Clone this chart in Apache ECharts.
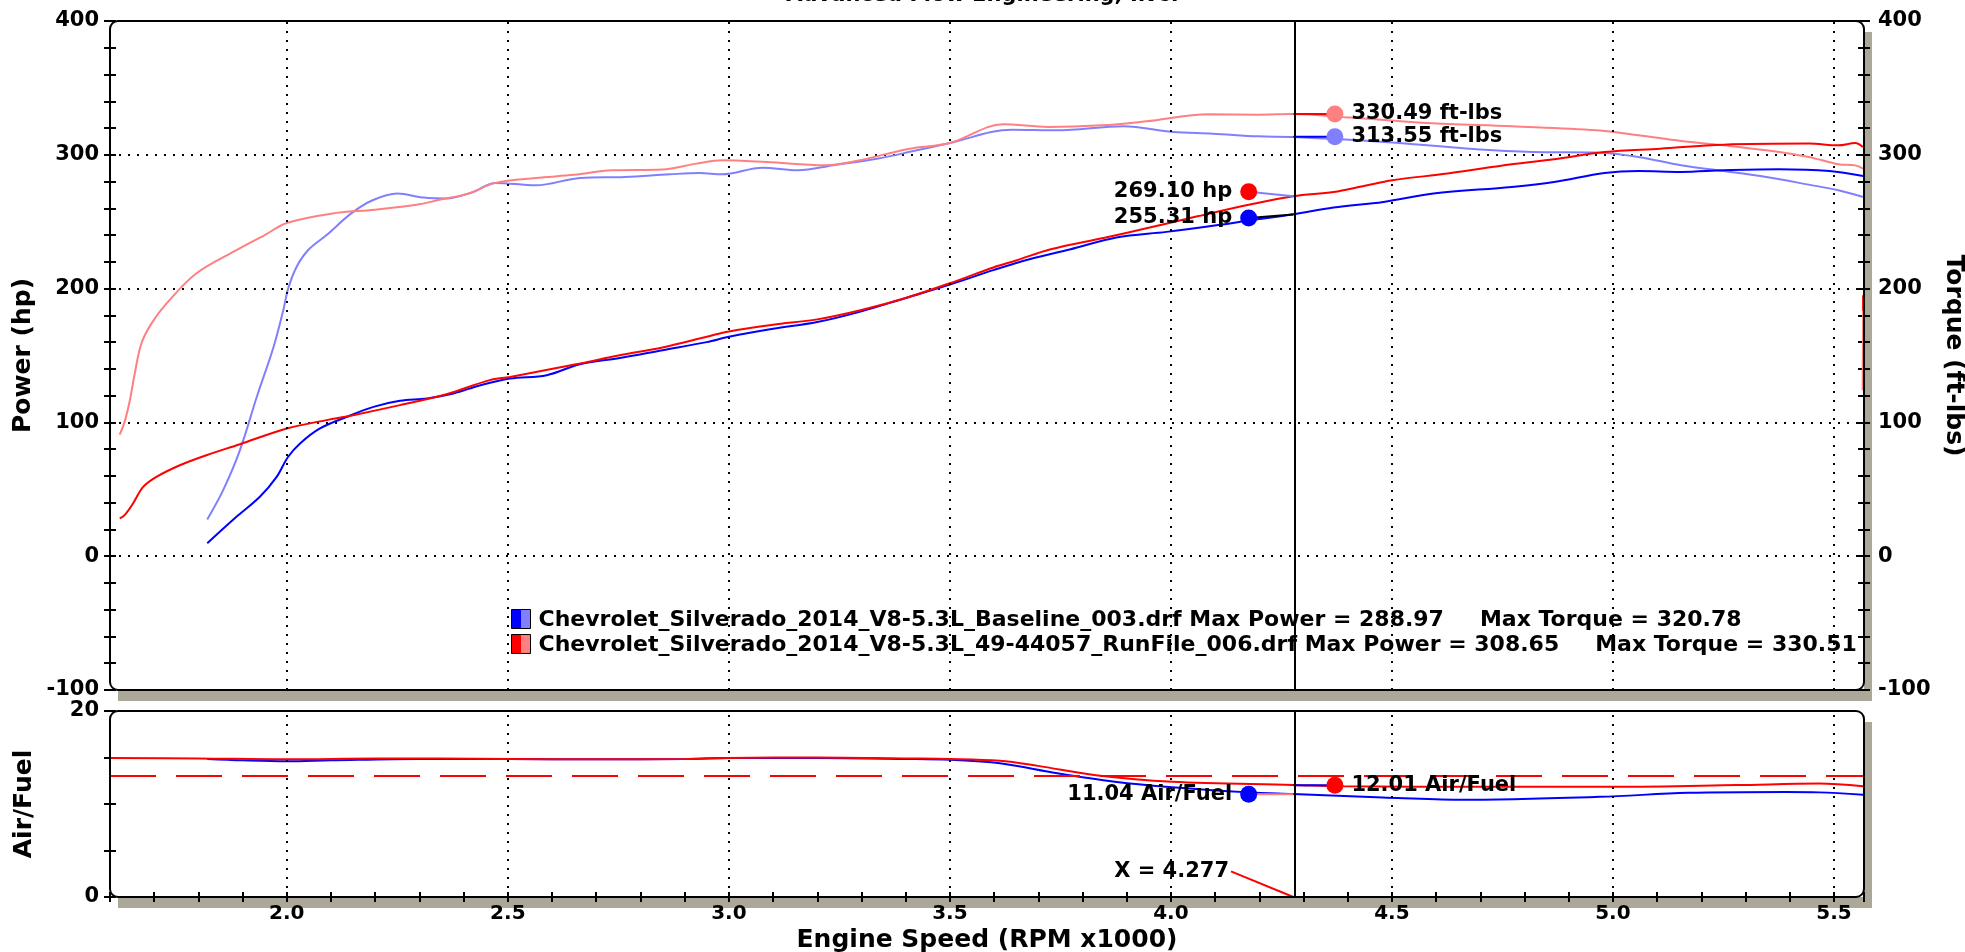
<!DOCTYPE html>
<html><head><meta charset="utf-8">
<script src="https://cdn.jsdelivr.net/npm/echarts@6/dist/echarts.min.js"></script>
<style>html,body{margin:0;padding:0;background:#fff}#c{width:1965px;height:952px}</style>
</head><body><div id="c"></div>
<script>
const FONT = 'DejaVu Sans';
const chartTitle = 'Advanced Flow Engineering, INC.';
const fileNames = ['Chevrolet_Silverado_2014_V8-5.3L_Baseline_003.drf', 'Chevrolet_Silverado_2014_V8-5.3L_49-44057_RunFile_006.drf'];
const maxPower = ['288.97', '308.65'];
const maxTorque = ['320.78', '330.51'];
const xGridValues = [2.0, 2.5, 3.0, 3.5, 4.0, 4.5, 5.0, 5.5];
const xRange = [1.6, 5.568];
const powerRange = [-100, 400];
const afrRange = [0, 20];
const afrTarget = 13.0;
const cursorX = 4.277;
const annLeftX = 4.176, annRightX = 4.371;
const cursorHp = [255.31, 269.10];      // baseline, runfile
const hpDotY = [252.8, 272.3];
const cursorTq = [313.55, 330.49];
const cursorAfr = [11.04, 12.01];

// Baseline (blue) power, hp
const basePower = [[1.82,9.6],[1.886,29.4],[1.939,44.4],[1.977,59.3],[2.003,74.3],[2.03,84.3],[2.075,95.5],[2.136,104.2],[2.196,111.6],[2.256,116.1],[2.317,117.9],[2.377,121.6],[2.438,127.8],[2.505,132.8],[2.588,135.3],[2.663,143.5],[2.75,148],[2.85,154],[2.95,160],[3.0,164],[3.1,170],[3.2,175],[3.3,183],[3.4,193],[3.5,203],[3.6,214],[3.68,222],[3.771,229.2],[3.877,238.2],[3.99,242.4],[4.103,247.3],[4.179,251],[4.277,255.6],[4.368,260.6],[4.481,264.8],[4.594,271],[4.771,276],[4.867,279.7],[4.981,286.4],[5.058,287.9],[5.154,287.2],[5.251,288.4],[5.375,289.2],[5.49,287.9],[5.566,284.2]];
// RunFile (red) power, hp
const runPower = [[1.622,28.2],[1.633,30.7],[1.652,39.4],[1.675,51.8],[1.705,59.3],[1.758,68],[1.818,75.5],[1.894,83.7],[2.0,95.5],[2.09,101.7],[2.15,105.4],[2.256,112.9],[2.361,121],[2.459,131.6],[2.505,134],[2.663,144],[2.75,150],[2.85,156],[2.95,164],[3.0,168],[3.1,173],[3.2,177],[3.3,184],[3.4,193],[3.5,204],[3.6,216],[3.65,221],[3.726,229.2],[3.85,238],[3.952,245.6],[4.06,254],[4.179,262.8],[4.277,269],[4.368,272.2],[4.434,276.5],[4.501,281],[4.626,286],[4.771,292.9],[4.867,296.7],[4.981,302.1],[5.107,304.6],[5.251,307.6],[5.443,308.4],[5.51,307.1],[5.548,308.8],[5.566,305.8]];
// Baseline (light blue) torque, ft-lbs
const baseTorque = [[1.82,27.5],[1.856,49.4],[1.894,79.3],[1.932,119],[1.97,156.4],[1.992,183.8],[2.003,200],[2.022,216.2],[2.048,228.7],[2.09,240],[2.145,256],[2.194,266],[2.25,271],[2.31,268],[2.36,267.3],[2.42,272],[2.472,279],[2.563,277.2],[2.664,282.7],[2.765,283.4],[2.866,285.4],[2.934,286.4],[2.985,285.4],[3.076,290.4],[3.156,288.4],[3.237,292.2],[3.338,297.2],[3.42,303],[3.5,308.8],[3.641,318.8],[3.742,318.3],[3.893,321.3],[4.004,317],[4.095,315.8],[4.197,313.8],[4.277,313.3],[4.482,309.6],[4.674,304.6],[4.818,302.1],[4.963,301.7],[5.058,298.4],[5.154,292.2],[5.251,287.9],[5.347,283.4],[5.443,277.7],[5.51,273.5],[5.566,268.5]];
// RunFile (pink) torque, ft-lbs
const runTorque = [[1.622,90.9],[1.633,100.4],[1.645,116.6],[1.656,136.6],[1.671,159],[1.694,174],[1.728,188.9],[1.795,211.3],[1.886,228.7],[1.95,240],[2.0,249],[2.1,256],[2.2,259],[2.3,263],[2.34,266],[2.41,271],[2.472,279],[2.563,282.7],[2.65,285],[2.735,288.4],[2.85,289],[2.926,293.4],[2.985,295.9],[3.086,294.6],[3.217,292.2],[3.288,295.4],[3.409,304.6],[3.5,308.8],[3.621,322.8],[3.722,320.8],[3.843,322],[3.944,325],[4.086,330.3],[4.197,330],[4.277,330.5],[4.407,327.8],[4.579,323.8],[4.771,321.3],[4.963,318.3],[5.058,314.6],[5.154,310.3],[5.251,307.1],[5.347,303.4],[5.443,298.4],[5.51,292.9],[5.548,292.1],[5.566,289.7]];
const runTorqueTail = [[5.566,195],[5.566,183],[5.565,124]];
// Air/Fuel
const baseAfr = [[1.82,14.85],[1.9,14.7],[2.0,14.6],[2.1,14.7],[2.3,14.85],[2.5,14.85],[2.7,14.8],[2.9,14.85],[3.0,14.95],[3.2,14.95],[3.4,14.85],[3.5,14.75],[3.613,14.37],[3.743,13.3],[3.873,12.4],[4.003,11.8],[4.176,11.25],[4.276,11.07],[4.479,10.7],[4.65,10.46],[4.97,10.77],[5.17,11.2],[5.39,11.3],[5.466,11.25],[5.566,11.0]];
const runAfr = [[1.6,14.95],[1.8,14.9],[2.0,14.8],[2.2,14.9],[2.5,14.85],[2.7,14.8],[2.9,14.85],[3.0,14.95],[3.2,15.0],[3.4,14.9],[3.5,14.85],[3.613,14.65],[3.699,14.1],[3.83,13.1],[4.003,12.4],[4.276,12.05],[4.39,11.9],[4.7,11.85],[5.004,11.85],[5.28,12.03],[5.466,12.2],[5.566,11.9]];
const xLabelAnchor = [4.136, 2.75];

const BLUE = '#0000ff', LBLUE = '#8080ff', RED = '#ff0000', PINK = '#ff8080';
const SHADOW = '#aca899';
const txt = (size) => ({fontFamily: FONT, fontWeight: 'bold', fontSize: size, color: '#000'});
const BLK = {color: '#000', width: 2};

// panel layout (pixels)
const PLOT_L = 110, PLOT_R = 101, PLOT_W = 1965 - 110 - 101;
const panels = [{top: 21, height: 669}, {top: 711, height: 186}];

function curve(name, data, color, xi, yi, extra) {
  return Object.assign({
    type: 'line', name, data, xAxisIndex: xi, yAxisIndex: yi, showSymbol: false,
    smooth: 0.35, silent: true, z: 3,
    lineStyle: {color, width: 2}, itemStyle: {color}
  }, extra || {});
}
function seg(pts, color, xi, yi, width) {
  return {type: 'line', data: pts, xAxisIndex: xi, yAxisIndex: yi, showSymbol: false, silent: true, z: 4,
    lineStyle: {color, width: width || 2}, itemStyle: {color}};
}
function dot(x, y, color, text, pos, xi, yi, size) {
  return {type: 'scatter', xAxisIndex: xi, yAxisIndex: yi, silent: true, z: 6, symbolSize: size === undefined ? 17 : size,
    itemStyle: {color, opacity: 1},
    data: [{value: [x, y], label: {show: true, position: pos, distance: size === 0 ? 2 : 8, formatter: text, opacity: 1, ...txt(21)}}]};
}
const gridLines = () => ({
  silent: true, symbol: 'none', label: {show: false}, animation: false,
  lineStyle: {color: '#000', type: [2, 7], width: 2},
  data: xGridValues.map(v => ({xAxis: v})).concat([{xAxis: cursorX, lineStyle: {type: 'solid', width: 2, color: '#000'}}])
});

const xCommon = {
  type: 'value', min: xRange[0], max: xRange[1], interval: 0.1,
  splitLine: {show: false}, axisLabel: {show: false}, axisTick: {show: false}, axisLine: {show: false}
};
const halfLabel = v => (Math.abs(v * 2 - Math.round(v * 2)) < 1e-6 ? v.toFixed(1) : '');
const gridBase = {left: PLOT_L, right: PLOT_R, show: true, backgroundColor: '#fff', borderWidth: 0,
  containLabel: false, outerBoundsMode: 'none',
  shadowColor: SHADOW, shadowBlur: 0, shadowOffsetX: 8, shadowOffsetY: 11};
const noLine = {show: false};

const option = {
  animation: false,
  backgroundColor: '#fff',
  title: {text: chartTitle, left: 'center', top: -15, padding: 0, textStyle: txt(21)},
  grid: panels.map(p => Object.assign({top: p.top, height: p.height}, gridBase)),
  xAxis: [
    Object.assign({}, xCommon, {gridIndex: 0}),
    Object.assign({}, xCommon, {gridIndex: 1, position: 'bottom',
      axisTick: {show: true, length: 5, lineStyle: BLK},
      axisLabel: {show: true, margin: 7, formatter: halfLabel, ...txt(20)},
      name: 'Engine Speed (RPM x1000)', nameLocation: 'middle', nameGap: 31, nameTextStyle: txt(25)}),
    Object.assign({}, xCommon, {gridIndex: 1, position: 'bottom',
      axisTick: {show: true, inside: true, length: 5, lineStyle: BLK}})
  ],
  yAxis: [
    {gridIndex: 0, type: 'value', min: powerRange[0], max: powerRange[1], interval: 100, position: 'left',
      axisLine: noLine,
      axisTick: {show: true, length: 6, lineStyle: BLK},
      minorTick: {show: true, splitNumber: 5, length: 6, lineStyle: BLK},
      axisLabel: {margin: 11, ...txt(21)},
      splitLine: {show: true, lineStyle: {color: '#000', type: [2, 7], width: 2}},
      name: 'Power (hp)', nameLocation: 'middle', nameGap: 73, nameTextStyle: txt(25)},
    {gridIndex: 0, type: 'value', min: powerRange[0], max: powerRange[1], interval: 100, position: 'left',
      axisLine: noLine, axisLabel: {show: false}, splitLine: {show: false},
      axisTick: {show: true, inside: true, length: 6, lineStyle: BLK},
      minorTick: {show: true, splitNumber: 5, length: 6, lineStyle: BLK}},
    {gridIndex: 0, type: 'value', min: powerRange[0], max: powerRange[1], interval: 100, position: 'right',
      axisLine: noLine,
      axisTick: {show: true, length: 6, lineStyle: BLK},
      minorTick: {show: true, splitNumber: 5, length: 6, lineStyle: BLK},
      axisLabel: {margin: 14, ...txt(21)}, splitLine: {show: false},
      name: 'Torque (ft-lbs)', nameLocation: 'middle', nameGap: 71, nameRotate: -90, nameTextStyle: txt(25)},
    {gridIndex: 0, type: 'value', min: powerRange[0], max: powerRange[1], interval: 100, position: 'right',
      axisLine: noLine, axisLabel: {show: false}, splitLine: {show: false},
      axisTick: {show: true, inside: true, length: 6, lineStyle: BLK},
      minorTick: {show: true, splitNumber: 5, length: 6, lineStyle: BLK}},
    {gridIndex: 1, type: 'value', min: afrRange[0], max: afrRange[1], interval: 5, position: 'left',
      axisLine: noLine,
      axisTick: {show: true, length: 6, lineStyle: BLK},
      axisLabel: {margin: 11, formatter: v => (v === afrRange[0] || v === afrRange[1] ? String(v) : ''), ...txt(21)},
      splitLine: {show: false},
      name: 'Air/Fuel', nameLocation: 'middle', nameGap: 73, nameTextStyle: txt(25)},
    {gridIndex: 1, type: 'value', min: afrRange[0], max: afrRange[1], interval: 5, position: 'left',
      axisLine: noLine, axisLabel: {show: false}, splitLine: {show: false},
      axisTick: {show: true, inside: true, length: 6, lineStyle: BLK}}
  ],
  graphic: panels.map(p => ({
    type: 'rect', z: 100, silent: true,
    shape: {x: PLOT_L, y: p.top, width: PLOT_W, height: p.height, r: 8},
    style: {fill: 'none', stroke: '#000', lineWidth: 2}
  })).concat(fileNames.map((f, i) => ({
    type: 'group', left: 509, top: i === 0 ? 607 : 632,
    children: [
      {type: 'rect', shape: {x: 0, y: 0, width: 10, height: 19}, style: {fill: i === 0 ? BLUE : RED}},
      {type: 'rect', shape: {x: 10, y: 0, width: 9, height: 19}, style: {fill: i === 0 ? LBLUE : PINK}},
      {type: 'rect', shape: {x: 0, y: 0, width: 19, height: 19}, style: {fill: 'none', stroke: '#000', lineWidth: 1}},
      {type: 'text', x: 27, y: 11, style: {
        text: f + ' Max Power = ' + maxPower[i] + '{g| }Max Torque = ' + maxTorque[i],
        font: 'bold 22px "DejaVu Sans"', fill: '#000', verticalAlign: 'middle',
        rich: {g: {width: 36}}}}
    ]
  }))),
  series: [
    curve('base torque', baseTorque, LBLUE, 0, 2),
    curve('run torque', runTorque, PINK, 0, 2),
    seg(runTorqueTail.slice(0, 2), RED, 0, 2),
    seg(runTorqueTail.slice(1), PINK, 0, 2),
    curve('base power', basePower, BLUE, 0, 0, {markLine: gridLines()}),
    curve('run power', runPower, RED, 0, 0),
    curve('base afr', baseAfr, BLUE, 1, 4, {markLine: Object.assign(gridLines(), {
      data: gridLines().data.concat([{yAxis: afrTarget, lineStyle: {color: RED, type: [46, 20], width: 2}}])})}),
    curve('run afr', runAfr, RED, 1, 4),
    // leaders from cursor to annotation dots
    seg([[cursorX, cursorTq[1]], [annRightX, cursorTq[1]]], RED, 0, 2),
    seg([[cursorX, cursorTq[0]], [annRightX, cursorTq[0]]], BLUE, 0, 2),
    seg([[annLeftX, hpDotY[1]], [cursorX, cursorHp[1]]], LBLUE, 0, 0),
    seg([[annLeftX, hpDotY[0]], [cursorX, cursorHp[0]]], '#000', 0, 0),
    seg([[annLeftX, cursorAfr[0]], [cursorX, cursorAfr[0]]], PINK, 1, 4),
    seg([[cursorX, cursorAfr[1]], [annRightX, cursorAfr[1]]], BLUE, 1, 4),
    seg([xLabelAnchor, [cursorX, afrRange[0]]], RED, 1, 4),
    dot(annRightX, cursorTq[1], PINK, cursorTq[1].toFixed(2) + ' ft-lbs', 'right', 0, 2),
    dot(annRightX, cursorTq[0], LBLUE, cursorTq[0].toFixed(2) + ' ft-lbs', 'right', 0, 2),
    dot(annLeftX, hpDotY[1], RED, cursorHp[1].toFixed(2) + ' hp', 'left', 0, 0),
    dot(annLeftX, hpDotY[0], BLUE, cursorHp[0].toFixed(2) + ' hp', 'left', 0, 0),
    dot(annLeftX, cursorAfr[0], BLUE, cursorAfr[0].toFixed(2) + ' Air/Fuel', 'left', 1, 4),
    dot(annRightX, cursorAfr[1], RED, cursorAfr[1].toFixed(2) + ' Air/Fuel', 'right', 1, 4),
    dot(xLabelAnchor[0], xLabelAnchor[1], RED, 'X = ' + cursorX.toFixed(3), 'left', 1, 4, 0)
  ]
};
const chart = echarts.init(document.getElementById('c'), null, {renderer: 'canvas'});
chart.setOption(option);
</script></body></html>
